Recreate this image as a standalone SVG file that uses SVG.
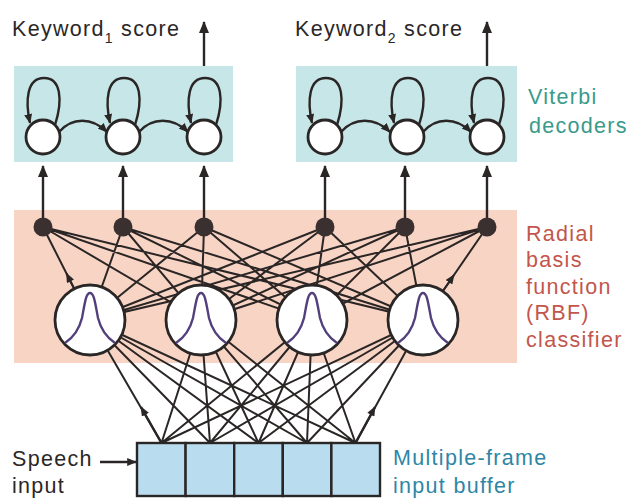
<svg xmlns="http://www.w3.org/2000/svg" width="633" height="499" viewBox="0 0 633 499">
<style>
text{font-family:"Liberation Sans",Arial,sans-serif;font-size:21.5px;letter-spacing:1.3px}
.dark{fill:#2b2727}
.teal{fill:#3a9a8b}
.red{fill:#c2564c}
.blue{fill:#2e86a6}
.ln{stroke:#2b2626;stroke-width:2;fill:none}
.th{stroke:#2b2626;stroke-width:2.4;fill:none}
.st{fill:#fff;stroke:#2b2626;stroke-width:2.8}
.rbf{fill:#fff;stroke:#2b2626;stroke-width:2.8}
.g{fill:none;stroke:#533f7c;stroke-width:2.4}
.dot{fill:#3a3030}
.cell{fill:#b9dcee;stroke:#2b2626;stroke-width:2.4}
</style>
<defs>
<marker id="ah" viewBox="0 0 12 10" refX="11" refY="5" markerWidth="12" markerHeight="10" markerUnits="userSpaceOnUse" orient="auto"><path d="M0,0 L12,5 L0,10 z" fill="#2b2626"/></marker>
<marker id="as" viewBox="0 0 12 10" refX="11" refY="5" markerWidth="10" markerHeight="8" markerUnits="userSpaceOnUse" orient="auto"><path d="M0,0 L12,5 L0,10 z" fill="#2b2626"/></marker>
</defs>

<!-- backgrounds -->
<rect x="14" y="66" width="219" height="96" fill="#c6e6e7"/>
<rect x="296" y="66" width="221" height="96" fill="#c6e6e7"/>
<rect x="14" y="210" width="503" height="153" fill="#f8d4c4"/>

<!-- labels -->
<text class="dark" x="12" y="36">Keyword<tspan font-size="14" dy="7">1</tspan><tspan dy="-7"> score</tspan></text>
<text class="dark" x="295" y="36">Keyword<tspan font-size="14" dy="7">2</tspan><tspan dy="-7"> score</tspan></text>
<text class="teal" x="528" y="104">Viterbi</text>
<text class="teal" x="529" y="133">decoders</text>
<text class="red" x="526" y="241">Radial</text>
<text class="red" x="526" y="267">basis</text>
<text class="red" x="526" y="294">function</text>
<text class="red" x="526" y="320">(RBF)</text>
<text class="red" x="526" y="347">classifier</text>
<text class="dark" x="12" y="466">Speech</text>
<text class="dark" x="12" y="493">input</text>
<text class="blue" x="393" y="465">Multiple-frame</text>
<text class="blue" x="393" y="493">input buffer</text>

<g id="connectors">
<!-- score outputs -->
<line class="th" x1="204" y1="66" x2="204" y2="22" marker-end="url(#ah)"/>
<line class="th" x1="487" y1="66" x2="487" y2="22" marker-end="url(#ah)"/>
<!-- viterbi self loops -->
<path class="th" d="M55,125 C63,100 61,78 44,78 C27,78 25,100 30,123" marker-end="url(#as)"/>
<path class="th" d="M135,125 C143,100 141,78 124,78 C107,78 105,100 110,123" marker-end="url(#as)"/>
<path class="th" d="M216,125 C224,100 222,78 205,78 C188,78 186,100 191,123" marker-end="url(#as)"/>
<path class="th" d="M337,125 C345,100 343,78 326,78 C309,78 307,100 312,123" marker-end="url(#as)"/>
<path class="th" d="M419,125 C427,100 425,78 408,78 C391,78 389,100 394,123" marker-end="url(#as)"/>
<path class="th" d="M499,125 C507,100 505,78 488,78 C471,78 469,100 474,123" marker-end="url(#as)"/>
<!-- viterbi transitions -->
<path class="th" d="M59,132 C72,117 92,117 107,132" marker-end="url(#as)"/>
<path class="th" d="M139,132 C152,117 173,117 188,132" marker-end="url(#as)"/>
<path class="th" d="M341,132 C354,117 375,117 390,132" marker-end="url(#as)"/>
<path class="th" d="M423,132 C436,117 456,117 471,132" marker-end="url(#as)"/>
<!-- dots to viterbi -->
<line class="th" x1="43" y1="220" x2="43" y2="166" marker-end="url(#ah)"/>
<line class="th" x1="123" y1="220" x2="123" y2="166" marker-end="url(#ah)"/>
<line class="th" x1="204" y1="220" x2="204" y2="166" marker-end="url(#ah)"/>
<line class="th" x1="325" y1="220" x2="325" y2="166" marker-end="url(#ah)"/>
<line class="th" x1="405" y1="220" x2="405" y2="166" marker-end="url(#ah)"/>
<line class="th" x1="487" y1="220" x2="487" y2="166" marker-end="url(#ah)"/>
<!-- RBF to dots -->
<path class="ln" d="M90,320 L43,227 M90,320 L123,227 M90,320 L204,227 M90,320 L325,227 M90,320 L405,227 M90,320 L487,227
M201,320 L43,227 M201,320 L123,227 M201,320 L204,227 M201,320 L325,227 M201,320 L405,227 M201,320 L487,227
M312,320 L43,227 M312,320 L123,227 M312,320 L204,227 M312,320 L325,227 M312,320 L405,227 M312,320 L487,227
M423,320 L43,227 M423,320 L123,227 M423,320 L204,227 M423,320 L325,227 M423,320 L405,227 M423,320 L487,227"/>
<line class="ln" x1="90" y1="320" x2="66.5" y2="273.5" marker-end="url(#as)"/>
<line class="ln" x1="423" y1="320" x2="454" y2="275" marker-end="url(#as)"/>
<!-- buffer to RBF -->
<path class="ln" d="M161.5,443 L90,320 M161.5,443 L201,320 M161.5,443 L312,320 M161.5,443 L423,320
M210,443 L90,320 M210,443 L201,320 M210,443 L312,320 M210,443 L423,320
M258.5,443 L90,320 M258.5,443 L201,320 M258.5,443 L312,320 M258.5,443 L423,320
M307,443 L90,320 M307,443 L201,320 M307,443 L312,320 M307,443 L423,320
M355.5,443 L90,320 M355.5,443 L201,320 M355.5,443 L312,320 M355.5,443 L423,320"/>
<line class="th" x1="161.5" y1="443" x2="141" y2="407" marker-end="url(#as)"/>
<line class="th" x1="355.5" y1="443" x2="375" y2="407" marker-end="url(#as)"/>
<!-- speech input -->
<line class="th" x1="100" y1="462" x2="136" y2="462" marker-end="url(#as)"/>
</g>

<g id="viterbi1">
<circle class="st" cx="43" cy="137" r="17"/>
<circle class="st" cx="123" cy="137" r="17"/>
<circle class="st" cx="204" cy="137" r="17"/>
</g>
<g id="viterbi2">
<circle class="st" cx="325" cy="137" r="17"/>
<circle class="st" cx="407" cy="137" r="17"/>
<circle class="st" cx="487" cy="137" r="17"/>
</g>
<g id="outputs">
<circle class="dot" cx="43" cy="227" r="9.5"/>
<circle class="dot" cx="123" cy="227" r="9.5"/>
<circle class="dot" cx="204" cy="227" r="9.5"/>
<circle class="dot" cx="325" cy="227" r="9.5"/>
<circle class="dot" cx="405" cy="227" r="9.5"/>
<circle class="dot" cx="487" cy="227" r="9.5"/>
</g>
<g id="rbf1"><circle class="rbf" cx="90" cy="320" r="35"/><path class="g" d="M65,343 C74,337 79,330 82,318 C85,302 86,293 90,293 C94,293 95,302 98,318 C101,330 106,337 115,343"/></g>
<g id="rbf2"><circle class="rbf" cx="201" cy="320" r="35"/><path class="g" d="M176,343 C185,337 190,330 193,318 C196,302 197,293 201,293 C205,293 206,302 209,318 C212,330 217,337 226,343"/></g>
<g id="rbf3"><circle class="rbf" cx="312" cy="320" r="35"/><path class="g" d="M287,343 C296,337 301,330 304,318 C307,302 308,293 312,293 C316,293 317,302 320,318 C323,330 328,337 337,343"/></g>
<g id="rbf4"><circle class="rbf" cx="423" cy="320" r="35"/><path class="g" d="M398,343 C407,337 412,330 415,318 C418,302 419,293 423,293 C427,293 428,302 431,318 C434,330 439,337 448,343"/></g>
<g id="buffer">
<rect class="cell" x="137" y="443" width="48.6" height="53"/>
<rect class="cell" x="185.6" y="443" width="48.6" height="53"/>
<rect class="cell" x="234.2" y="443" width="48.6" height="53"/>
<rect class="cell" x="282.8" y="443" width="48.6" height="53"/>
<rect class="cell" x="331.4" y="443" width="48.6" height="53"/>
</g>
</svg>
